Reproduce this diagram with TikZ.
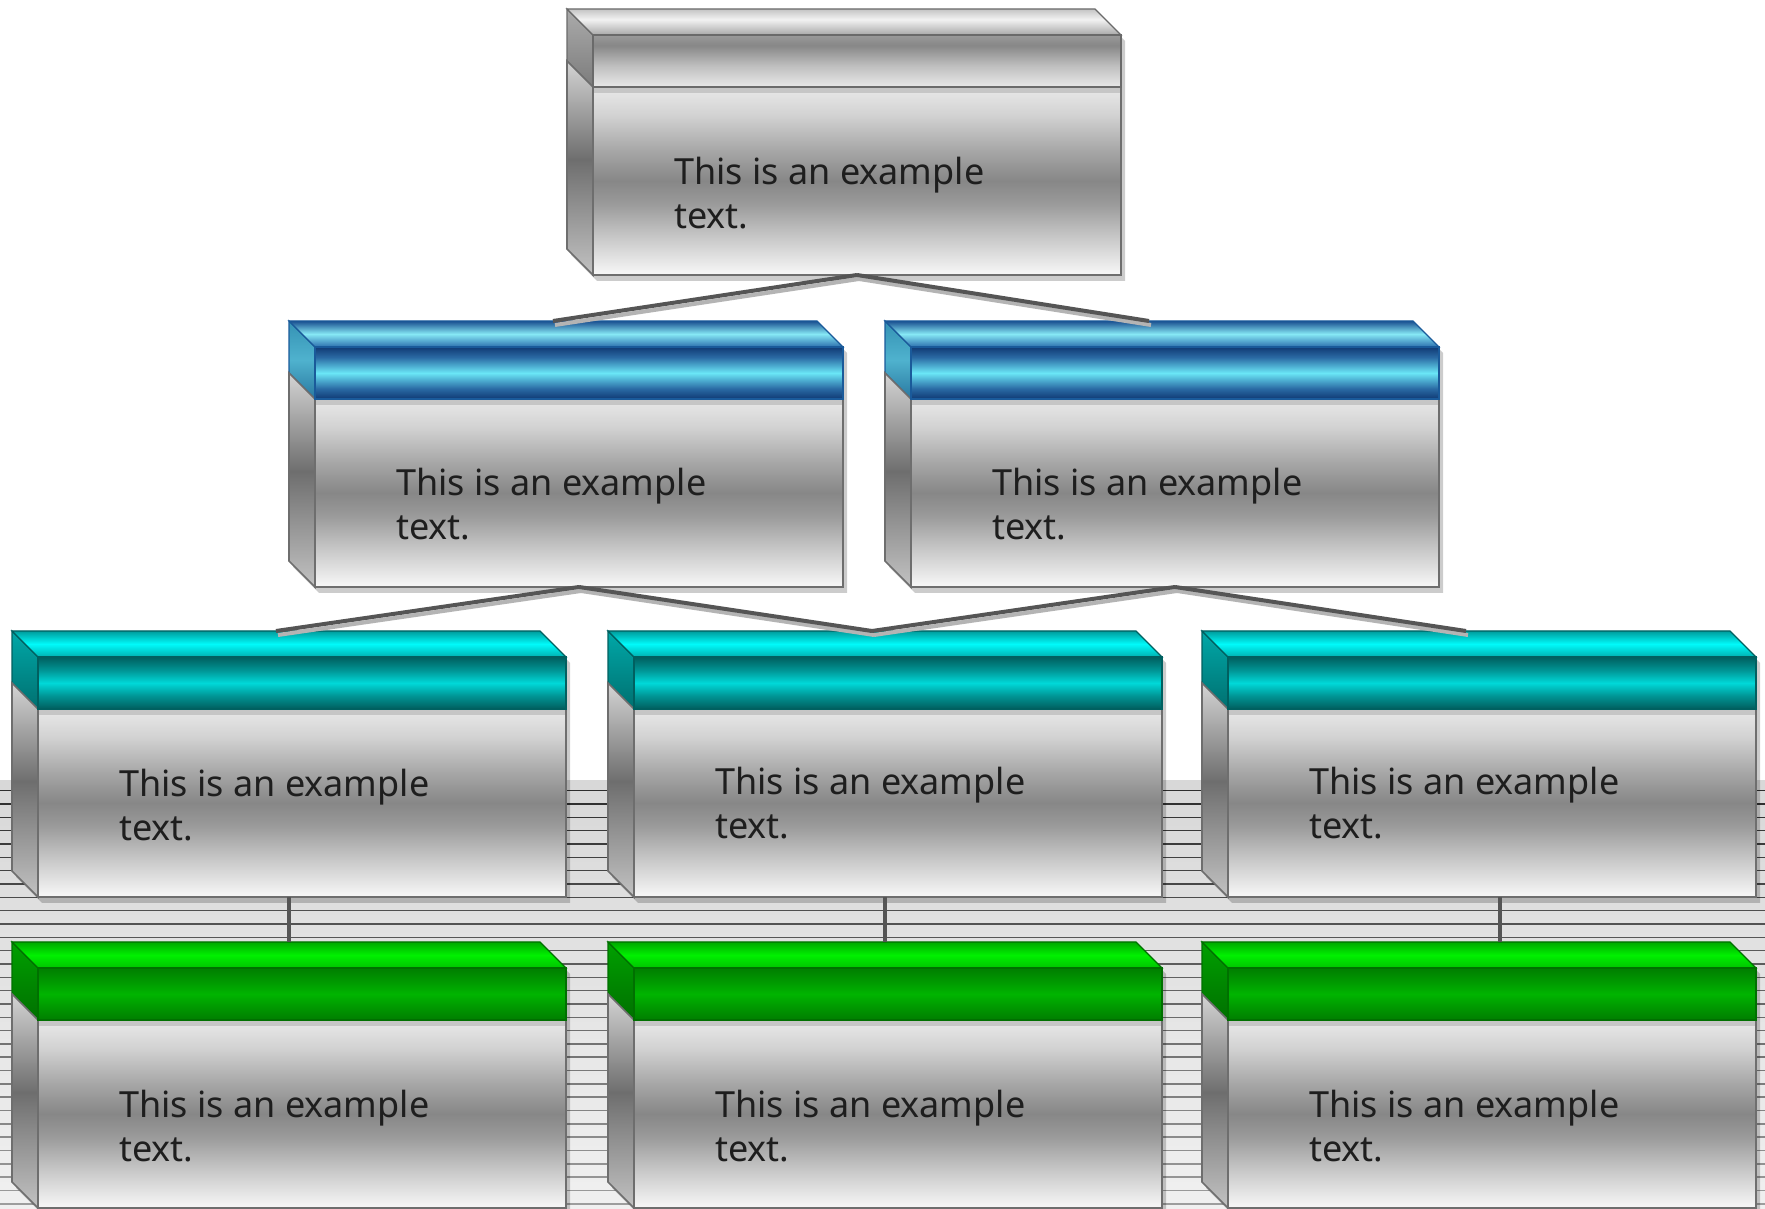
\documentclass[tikz,border=0pt]{standalone}
\usepackage{fontspec}
\setmainfont{Noto Sans}
\usetikzlibrary{calc}

% ---------- colours ----------
\definecolor{edgegray}{HTML}{6E6E6E}
\definecolor{txt}{HTML}{1E1E1E}
\definecolor{conncol}{HTML}{555555}
\definecolor{connshad}{HTML}{B4B4B4}
\definecolor{stripetop}{HTML}{D8D8D8}
\definecolor{stripebot}{HTML}{F0F0F0}
\definecolor{underhead}{HTML}{C6C6C6}

% body
\definecolor{b0}{HTML}{E9E9E9}\definecolor{b1}{HTML}{D2D2D2}\definecolor{b2}{HTML}{A4A4A4}
\definecolor{b3}{HTML}{878787}\definecolor{b4}{HTML}{9A9A9A}\definecolor{b5}{HTML}{C8C8C8}
\definecolor{b6}{HTML}{F8F8F8}
\pgfdeclareverticalshading{bodyshade}{100bp}{color(0bp)=(b6); color(25bp)=(b6); color(35bp)=(b5); color(44bp)=(b4); color(50bp)=(b3); color(57.5bp)=(b2); color(67.5bp)=(b1); color(75bp)=(b0); color(100bp)=(b0)}
\definecolor{s0}{HTML}{D4D4D4}\definecolor{s1}{HTML}{6E6E6E}\definecolor{s2}{HTML}{C2C2C2}
\pgfdeclareverticalshading{sideshade}{100bp}{color(0bp)=(s2); color(25bp)=(s2); color(52bp)=(s1); color(75bp)=(s0); color(100bp)=(s0)}

% gray header
\definecolor{gt0}{HTML}{C4C4C4}\definecolor{gt1}{HTML}{F2F2F2}\definecolor{gt2}{HTML}{A8A8A8}
\pgfdeclareverticalshading{graytop}{100bp}{color(0bp)=(gt2); color(25bp)=(gt2); color(55bp)=(gt1); color(75bp)=(gt0); color(100bp)=(gt0)}
\definecolor{gf0}{HTML}{9A9A9A}\definecolor{gf1}{HTML}{878787}\definecolor{gf2}{HTML}{C0C0C0}\definecolor{gf3}{HTML}{E8E8E8}
\pgfdeclareverticalshading{grayfront}{100bp}{color(0bp)=(gf3); color(25bp)=(gf3); color(45bp)=(gf2); color(65bp)=(gf1); color(75bp)=(gf0); color(100bp)=(gf0)}
\definecolor{gs0}{HTML}{ABABAB}\definecolor{gs1}{HTML}{7C7C7C}
\pgfdeclareverticalshading{grayside}{100bp}{color(0bp)=(gs1); color(25bp)=(gs1); color(75bp)=(gs0); color(100bp)=(gs0)}
\definecolor{grayedge}{HTML}{6A6A6A}

% blue header
\definecolor{bt0}{HTML}{1A4F90}\definecolor{bt1}{HTML}{86E8F5}\definecolor{bt2}{HTML}{2C6FAE}
\pgfdeclareverticalshading{bluetop}{100bp}{color(0bp)=(bt2); color(25bp)=(bt2); color(50bp)=(bt1); color(75bp)=(bt0); color(100bp)=(bt0)}
\definecolor{bf0}{HTML}{103A74}\definecolor{bf1}{HTML}{2A6AA4}\definecolor{bf2}{HTML}{6AE6F6}
\pgfdeclareverticalshading{bluefront}{100bp}{color(0bp)=(bf0); color(25bp)=(bf0); color(35bp)=(bf1); color(50bp)=(bf2); color(65bp)=(bf1); color(75bp)=(bf0); color(100bp)=(bf0)}
\definecolor{bs0}{HTML}{3592B4}\definecolor{bs1}{HTML}{4FB2CE}\definecolor{bs2}{HTML}{2A78A0}
\pgfdeclareverticalshading{blueside}{100bp}{color(0bp)=(bs2); color(25bp)=(bs2); color(50bp)=(bs1); color(75bp)=(bs0); color(100bp)=(bs0)}
\definecolor{blueedge}{HTML}{1A5A9A}

% teal header
\definecolor{tt0}{HTML}{009C9C}\definecolor{tt1}{HTML}{00FAFA}\definecolor{tt2}{HTML}{00B0B0}
\pgfdeclareverticalshading{tealtop}{100bp}{color(0bp)=(tt2); color(25bp)=(tt2); color(50bp)=(tt1); color(75bp)=(tt0); color(100bp)=(tt0)}
\definecolor{tf0}{HTML}{005E5E}\definecolor{tf1}{HTML}{009494}\definecolor{tf2}{HTML}{00D8D8}
\pgfdeclareverticalshading{tealfront}{100bp}{color(0bp)=(tf0); color(25bp)=(tf0); color(37.5bp)=(tf1); color(50bp)=(tf2); color(62.5bp)=(tf1); color(75bp)=(tf0); color(100bp)=(tf0)}
\definecolor{ts0}{HTML}{00A8A8}\definecolor{ts1}{HTML}{007070}
\pgfdeclareverticalshading{tealside}{100bp}{color(0bp)=(ts1); color(25bp)=(ts1); color(75bp)=(ts0); color(100bp)=(ts0)}
\definecolor{tealedge}{HTML}{006060}

% green header
\definecolor{nt0}{HTML}{00A800}\definecolor{nt1}{HTML}{00F000}\definecolor{nt2}{HTML}{00C400}
\pgfdeclareverticalshading{greentop}{100bp}{color(0bp)=(nt2); color(25bp)=(nt2); color(50bp)=(nt1); color(75bp)=(nt0); color(100bp)=(nt0)}
\definecolor{nf0}{HTML}{007E00}\definecolor{nf1}{HTML}{009800}\definecolor{nf2}{HTML}{00B400}
\pgfdeclareverticalshading{greenfront}{100bp}{color(0bp)=(nf0); color(25bp)=(nf0); color(37.5bp)=(nf1); color(50bp)=(nf2); color(62.5bp)=(nf1); color(75bp)=(nf0); color(100bp)=(nf0)}
\definecolor{ns0}{HTML}{00A000}\definecolor{ns1}{HTML}{007000}
\pgfdeclareverticalshading{greenside}{100bp}{color(0bp)=(ns1); color(25bp)=(ns1); color(75bp)=(ns0); color(100bp)=(ns0)}
\definecolor{greenedge}{HTML}{007000}

\tikzset{
  boxedge/.style={draw=edgegray, line width=1.6pt, line join=miter},
  headedge/.style={draw=#1, line width=1.2pt, line join=miter},
  boxtext/.style={anchor=base west, align=left, text=txt,
                  font=\fontsize{36}{44}\selectfont, inner sep=0pt},
  conn/.style={draw=conncol, line width=4pt},
  connshadow/.style={draw=connshad, line width=4pt},
}

% #1 name, #2 X (px from left), #3 Y (px from top), #4 scheme, #5 offset of last text baseline, #6 vertical-connector x
\newcommand{\orgbox}[6]{%
\begin{scope}[shift={(#2,{1208-#3})}]
  \fill[black, opacity=0.2] (-22,20) -- (506,20) -- (532,-6) -- (532,-246) -- (4,-246) -- (-22,-220) -- cycle;
  \shade[shading=#4side, headedge=#4edge] (-26,26) -- (0,0) -- (0,-52) -- (-26,-26) -- cycle;
  \shade[shading=sideshade, boxedge] (-26,-26) -- (0,-52) -- (0,-240) -- (-26,-214) -- cycle;
  \shade[shading=bodyshade, boxedge] (0,-52) rectangle (528,-240);
  \fill[underhead] (0.8,-52) rectangle (527.2,-58);
  \shade[shading=#4top, headedge=#4edge] (-26,26) -- (502,26) -- (528,0) -- (0,0) -- cycle;
  \shade[shading=#4front, headedge=#4edge] (0,0) rectangle (528,-52);
  \node[boxtext] (#1) at (81,-#5) {This is an example\\text.};
  \coordinate (#1-in) at (238,26);
  \coordinate (#1-out) at (264,-240);
  \coordinate (#1-vin) at (#6,26);
  \coordinate (#1-vout) at (#6,-240);
\end{scope}}

\begin{document}
\begin{tikzpicture}[x=1pt, y=1pt]
  \useasboundingbox (0,0) rectangle (1765,1208);
  \fill[white] (0,0) rectangle (1765,1208);

  % striped background
  \shade[top color=stripetop, bottom color=stripebot] (0,0) rectangle (1765,{1208-781});
  \foreach \i in {0,...,31}{
    \pgfmathsetmacro\yy{1208-(790.7+13.33*\i)}
    \pgfmathsetmacro\lv{82-1.4*\i}
    \draw[black!\lv, line width=1.6pt] (0,\yy) -- (1765,\yy);
  }

  % boxes
  \orgbox{top}{593}{35}{gray}{194}{251}
  \orgbox{ba}{315}{347}{blue}{193}{251}
  \orgbox{bb}{911}{347}{blue}{193}{251}
  \orgbox{ca}{38}{657}{teal}{184}{251}
  \orgbox{cb}{634}{657}{teal}{182}{251}
  \orgbox{cc}{1228}{657}{teal}{182}{272}
  \orgbox{da}{38}{968}{green}{194}{251}
  \orgbox{db}{634}{968}{green}{194}{251}
  \orgbox{dc}{1228}{968}{green}{194}{272}

  % connector shadows
  \begin{scope}[transform canvas={shift={(2,-4)}}]
    \draw[connshadow] (top-out) -- (ba-in);
    \draw[connshadow] (top-out) -- (bb-in);
    \draw[connshadow] (ba-out) -- (ca-in);
    \draw[connshadow] (ba-out) -- (cb-in);
    \draw[connshadow] (bb-out) -- (cb-in);
    \draw[connshadow] (bb-out) -- (cc-in);
  \end{scope}
  % connectors
  \draw[conn] (top-out) -- (ba-in);
  \draw[conn] (top-out) -- (bb-in);
  \draw[conn] (ba-out) -- (ca-in);
  \draw[conn] (ba-out) -- (cb-in);
  \draw[conn] (bb-out) -- (cb-in);
  \draw[conn] (bb-out) -- (cc-in);
  \draw[conn] (ca-vout) -- (da-vin);
  \draw[conn] (cb-vout) -- (db-vin);
  \draw[conn] (cc-vout) -- (dc-vin);
\end{tikzpicture}
\end{document}
